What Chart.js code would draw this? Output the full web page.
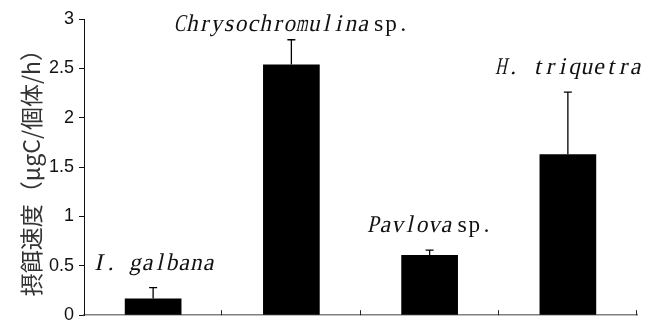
<!DOCTYPE html>
<html>
<head>
<meta charset="utf-8">
<script src="https://cdn.jsdelivr.net/npm/chart.js@4"></script>
<style>
  html, body { margin:0; padding:0; background:#fff; overflow:hidden; }
  #wrap { width:646px; height:331px; position:relative; }
</style>
</head>
<body>
<div id="wrap"><canvas id="chart"></canvas></div>
<script>
// ── Data ───────────────────────────────────────────────────
const species = ['I. galbana', 'Chrysochromulina', 'Pavlova', 'H. triquetra'];
const suffix  = ['', 'sp.', 'sp.', ''];
const rates   = [0.17, 2.54, 0.61, 1.63];   // 摂餌速度
const errors  = [0.11, 0.25, 0.05, 0.63];   // upper error only
const yMax = 3, yStep = 0.5;

const LABEL_FONT = '24px "Liberation Serif", serif';
const PITCH = 12.2;

// ── draw text one glyph per fixed cell, optional slant ─────
function drawMono(ctx, text, x, y, slant) {
  ctx.font = LABEL_FONT;
  for (let k = 0; k < text.length; k++) {
    const ch = text[k];
    if (ch === ' ') continue;
    const w = ctx.measureText(ch).width;
    const s = Math.min(1, PITCH * 0.95 / w);
    ctx.save();
    ctx.translate(x + PITCH * k + PITCH / 2, y);
    ctx.transform(s, 0, slant ? -0.22 : 0, 1, 0, 0);
    ctx.textAlign = 'center';
    ctx.fillText(ch, 0, 0);
    ctx.restore();
  }
}

// ── error bars (upper only, with cap) ──────────────────────
const errorBars = {
  id: 'errorBars',
  afterDatasetsDraw(chart) {
    const ctx = chart.ctx, y = chart.scales.y;
    chart.getDatasetMeta(0).data.forEach((bar, i) => {
      const top = y.getPixelForValue(rates[i] + errors[i]);
      ctx.save();
      ctx.strokeStyle = '#000';
      ctx.lineWidth = 1.3;
      ctx.beginPath();
      ctx.moveTo(bar.x, bar.y);
      ctx.lineTo(bar.x, top);
      ctx.moveTo(bar.x - 4, top);
      ctx.lineTo(bar.x + 4, top);
      ctx.stroke();
      ctx.restore();
    });
  }
};

// ── inward category ticks on x axis ────────────────────────
const xTicks = {
  id: 'xTicks',
  afterDraw(chart) {
    const ctx = chart.ctx, x = chart.scales.x, b = chart.chartArea.bottom;
    ctx.save();
    ctx.strokeStyle = '#222';
    ctx.lineWidth = 1;
    for (let i = 0; i < species.length; i++) {
      const px = Math.round(x.getPixelForValue(i + 0.5)) - 0.5;
      ctx.beginPath();
      ctx.moveTo(px, b);
      ctx.lineTo(px, b - 5);
      ctx.stroke();
    }
    ctx.restore();
  }
};

// ── species labels above each error bar ────────────────────
const speciesLabels = {
  id: 'speciesLabels',
  afterDraw(chart) {
    const ctx = chart.ctx, y = chart.scales.y;
    ctx.save();
    ctx.fillStyle = '#111';
    ctx.textBaseline = 'alphabetic';
    chart.getDatasetMeta(0).data.forEach((bar, i) => {
      const name = species[i], suf = suffix[i];
      const gap = suf ? 4 : 0;
      const total = PITCH * name.length + gap + PITCH * suf.length;
      const x0 = bar.x - total / 2;
      const base = Math.max(y.getPixelForValue(rates[i] + errors[i]) - 18, 31);
      drawMono(ctx, name, x0, base, true);
      if (suf) drawMono(ctx, suf, x0 + PITCH * name.length + gap, base, false);
    });
    ctx.restore();
  }
};

new Chart(document.getElementById('chart'), {
  type: 'bar',
  data: {
    labels: species,
    datasets: [{
      data: rates,
      backgroundColor: '#000',
      borderWidth: 0,
      barPercentage: 0.41,
      categoryPercentage: 1
    }]
  },
  options: {
    responsive: true,
    maintainAspectRatio: false,
    animation: false,
    layout: { padding: { top: 19, right: 9, left: 0, bottom: 0 } },
    plugins: { legend: { display: false }, tooltip: { enabled: false } },
    scales: {
      x: {
        grid: { display: false },
        border: { color: '#808080', width: 1.5 },
        ticks: { display: false }
      },
      y: {
        min: 0, max: yMax,
        ticks: {
          stepSize: yStep, color: '#111', padding: 5,
          font: { family: '"Liberation Sans", Arial', size: 18 },
          callback: v => String(v)
        },
        grid: { drawOnChartArea: false, tickLength: 5, color: '#111' },
        border: { color: '#111' },
        title: {
          display: true,
          text: '摂餌速度（μgC/個体/h）',
          color: '#333',
          font: { family: '"Noto Sans CJK JP"', size: 23 },
          padding: { top: 17, bottom: 0 }
        },
        afterFit: s => { s.width = 84; }
      }
    }
  },
  plugins: [errorBars, xTicks, speciesLabels]
});
</script>
</body>
</html>
